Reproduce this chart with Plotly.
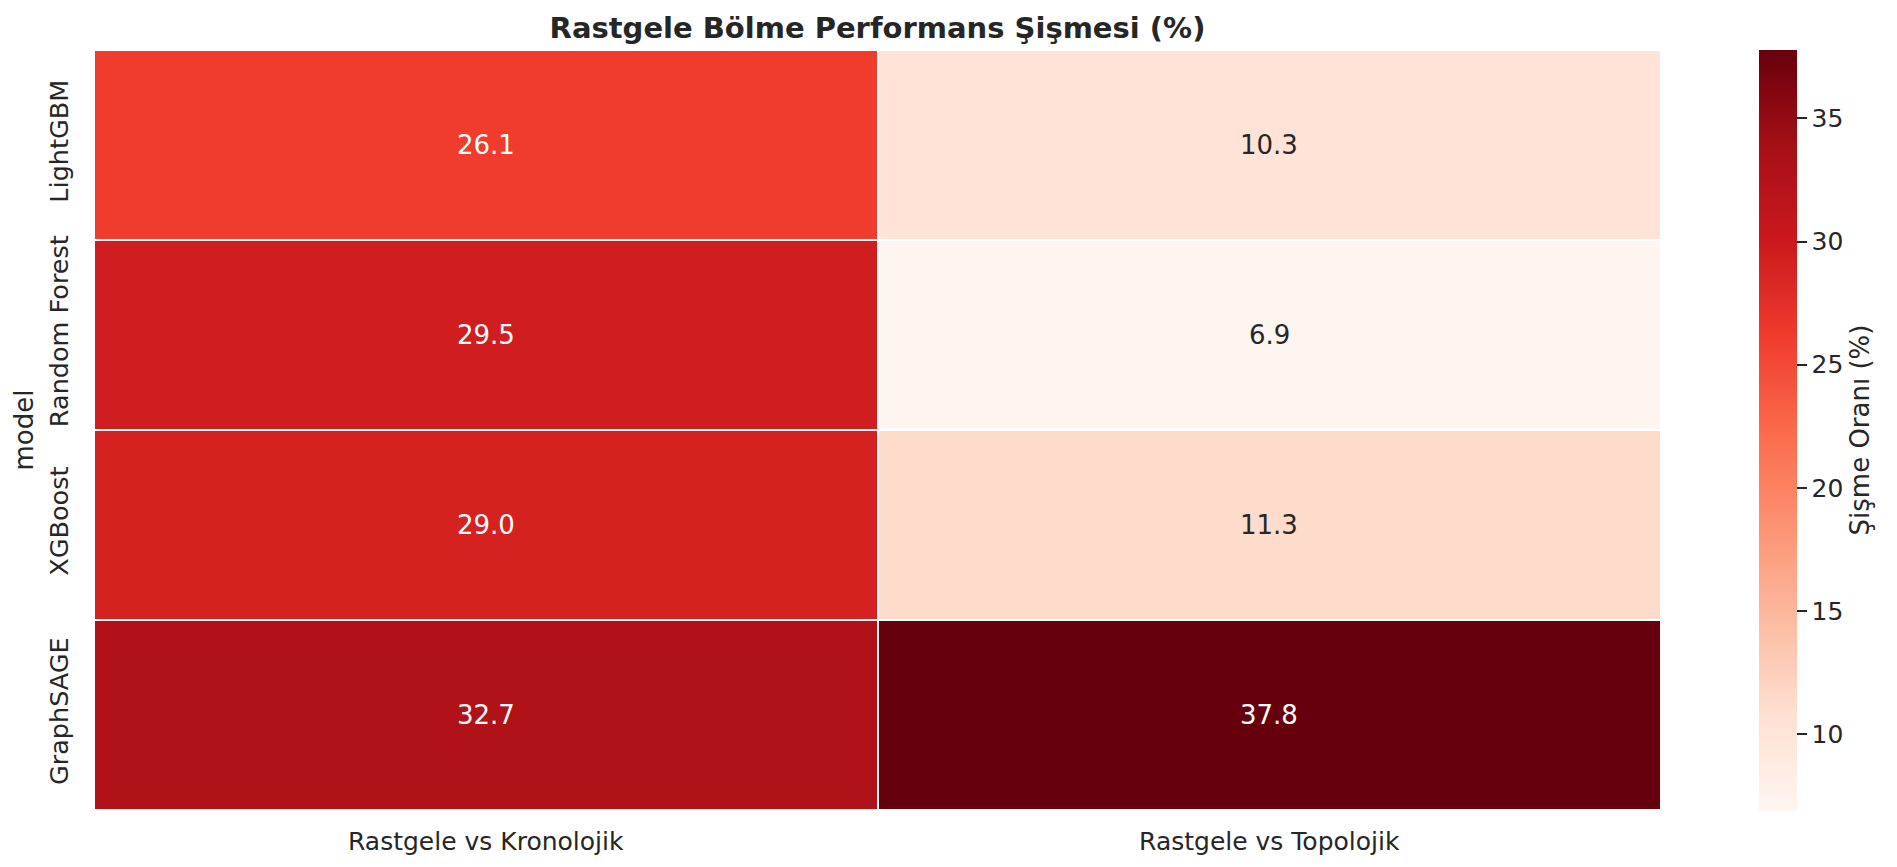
import plotly.graph_objects as go

models = ["LightGBM", "Random Forest", "XGBoost", "GraphSAGE"]
comparisons = ["Rastgele vs Kronolojik", "Rastgele vs Topolojik"]
kronolojik = [26.1, 29.5, 29.0, 32.7]
topolojik = [10.3, 6.9, 11.3, 37.8]
colorbar_ticks = [10, 15, 20, 25, 30, 35]

z = [[k, t] for k, t in zip(kronolojik, topolojik)]

reds = [
    [0.0, "rgb(255,245,240)"], [0.125, "rgb(254,224,210)"], [0.25, "rgb(252,187,161)"],
    [0.375, "rgb(252,146,114)"], [0.5, "rgb(251,106,74)"], [0.625, "rgb(239,59,44)"],
    [0.75, "rgb(203,24,29)"], [0.875, "rgb(165,15,21)"], [1.0, "rgb(103,0,13)"],
]

FONT = "DejaVu Sans"
DARK = "#262626"

vmin = min(min(kronolojik), min(topolojik))
vmax = max(max(kronolojik), max(topolojik))

fig = go.Figure(go.Heatmap(
    z=z, x=comparisons, y=models,
    colorscale=reds, zmin=vmin, zmax=vmax,
    xgap=2, ygap=2,
    colorbar=dict(
        title=dict(text="Şişme Oranı (%)", side="right", font=dict(family=FONT, size=26, color=DARK)),
        tickvals=colorbar_ticks, ticks="outside", ticklen=10, tickwidth=1.5, tickcolor=DARK,
        tickfont=dict(family=FONT, size=25, color=DARK),
        thickness=38, lenmode="pixels", len=761, x=1.0626, xanchor="left", xpad=0, ypad=0,
        y=0.5, yanchor="middle", outlinewidth=0,
    ),
    hoverinfo="skip",
))

annotations = []
for m, row in zip(models, z):
    for c, v in zip(comparisons, row):
        frac = (v - vmin) / (vmax - vmin)
        col = "white" if frac > 0.45 else DARK
        annotations.append(dict(x=c, y=m, text=f"{v:.1f}", showarrow=False,
                                font=dict(family=FONT, size=26, color=col)))

fig.update_layout(
    width=1897, height=867,
    margin=dict(l=94, r=236, t=50, b=57),
    paper_bgcolor="white", plot_bgcolor="white",
    title=dict(text="<b>Rastgele Bölme Performans Şişmesi (%)</b>", x=0.5, xref="paper",
               y=1 - 28 / 867, yref="container", yanchor="middle", xanchor="center",
               font=dict(family=FONT, size=29, color=DARK)),
    xaxis=dict(showgrid=False, zeroline=False, ticks="", ticklabelstandoff=14,
               tickfont=dict(family=FONT, size=25, color=DARK)),
    yaxis=dict(showgrid=False, zeroline=False, ticks="", autorange="reversed", tickangle=-90,
               ticklabelstandoff=20,
               tickfont=dict(family=FONT, size=25.5, color=DARK),
               title=dict(text="model", font=dict(family=FONT, size=26, color=DARK), standoff=2)),
    annotations=annotations,
)

fig.write_html("out.html")
